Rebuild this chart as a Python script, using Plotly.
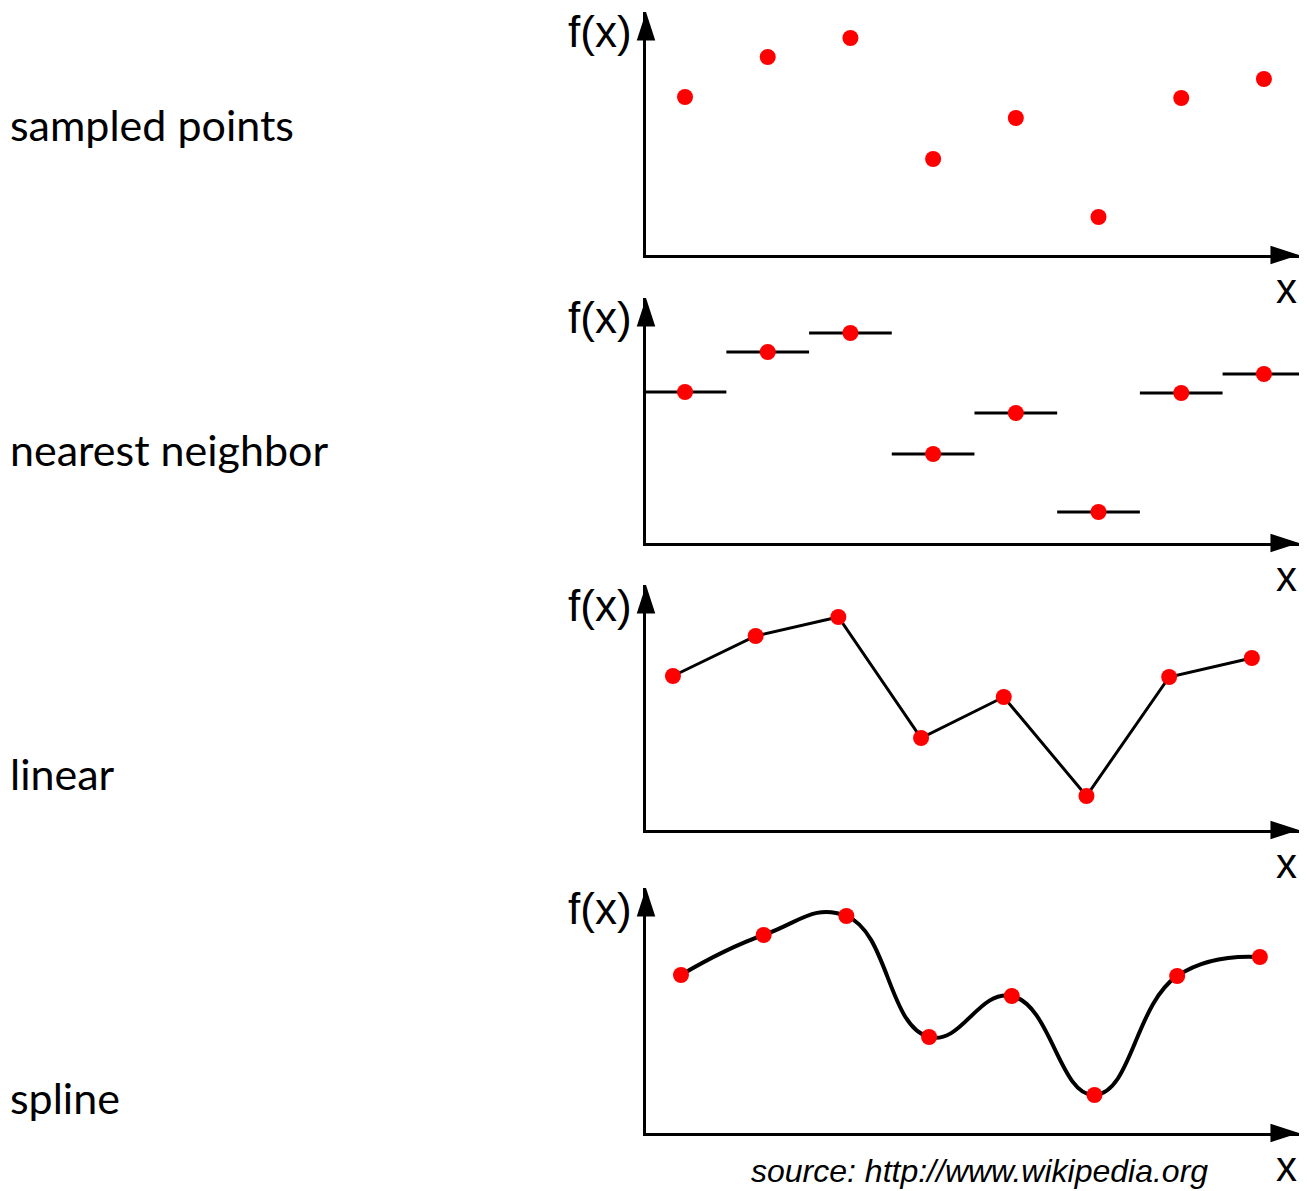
import plotly.graph_objects as go

# sample positions and sampled values (arbitrary units)
x_samples = [1, 2, 3, 4, 5, 6, 7, 8]
f_samples = [7.9, 9.9, 10.85, 4.8, 6.85, 1.9, 7.85, 8.8]

panel_names = ["sampled points", "nearest neighbor", "linear", "spline"]
source_text = "source: http://www.wikipedia.org"

# page has an 8px body margin, keep the figure inside the window width
OFF = 8
W, H = 1307 - 2 * OFF, 1191 - OFF
RIGHT = 1307 - OFF
PX_PER_X = 82.7
PX_PER_Y = 20.0


def px(v):
    return (v - OFF) / W


def py(v):
    return 1 - (v - OFF) / H


# per panel: (bottom px, top px, x start, y start, label y px)
panels = [
    (255, 12, 0.528, 0.0, 125),
    (543, 298, 0.528, 0.35, 449),
    (830, 585, 0.674, 0.2, 773),
    (1133, 888, 0.577, 0.0, 1097),
]

fig = go.Figure()
annotations = []
x_left = 646
axis_style = dict(showline=True, linewidth=3, linecolor="black", showgrid=False,
                  zeroline=False, showticklabels=False, ticks="", fixedrange=True)

for i, (bot, top, x0, y0, label_y) in enumerate(panels):
    n = "" if i == 0 else str(i + 1)
    xa, ya = "x" + n, "y" + n
    x1 = x0 + (RIGHT - x_left) / PX_PER_X
    y1 = y0 + (bot - top) / PX_PER_Y
    fig.update_layout({
        "xaxis" + n: dict(domain=[px(x_left), 1], range=[x0, x1], anchor=ya, **axis_style),
        "yaxis" + n: dict(domain=[py(bot), py(top)], range=[y0, y1], anchor=xa, **axis_style),
    })

    kind = panel_names[i]
    if kind == "nearest neighbor":
        seg_x, seg_y = [], []
        for xv, fv in zip(x_samples, f_samples):
            seg_x += [max(xv - 0.5, x0), xv + 0.5, None]
            seg_y += [fv, fv, None]
        fig.add_trace(go.Scatter(x=seg_x, y=seg_y, mode="lines", xaxis=xa, yaxis=ya,
                                 line=dict(color="black", width=3), showlegend=False))
    elif kind == "linear":
        fig.add_trace(go.Scatter(x=x_samples, y=f_samples, mode="lines", xaxis=xa, yaxis=ya,
                                 line=dict(color="black", width=3), showlegend=False))
    elif kind == "spline":
        fig.add_trace(go.Scatter(x=x_samples, y=f_samples, mode="lines", xaxis=xa, yaxis=ya,
                                 line=dict(color="black", width=4, shape="spline", smoothing=1.3),
                                 showlegend=False))

    fig.add_trace(go.Scatter(x=x_samples, y=f_samples, mode="markers", xaxis=xa, yaxis=ya,
                             marker=dict(color="#ff0000", size=16), showlegend=False))

    # arrowheads at the ends of both axes
    fig.add_trace(go.Scatter(x=[x0, x1], y=[y1, y0], mode="markers",
                             xaxis=xa, yaxis=ya, cliponaxis=False, hoverinfo="skip",
                             marker=dict(symbol="arrow", size=30, color="black",
                                         angle=[0, 90], line=dict(width=0)),
                             showlegend=False))

    annotations.append(dict(x=px(634), y=py(top + 20), xref="paper", yref="paper",
                            text="f(x)", showarrow=False, xanchor="right", yanchor="middle",
                            font=dict(family="Liberation Sans", size=44, color="black")))
    annotations.append(dict(x=1.0, y=py(bot + 33), xref="paper", yref="paper",
                            text="x", showarrow=False, xanchor="right", yanchor="middle",
                            font=dict(family="Liberation Sans", size=42, color="black")))
    annotations.append(dict(x=px(8), y=py(label_y), xref="paper", yref="paper",
                            text=kind, showarrow=False, xanchor="left", yanchor="middle",
                            font=dict(family="Lato", size=43, color="black")))

annotations.append(dict(x=px(980), y=py(1171), xref="paper", yref="paper",
                        text="<i>" + source_text + "</i>", showarrow=False,
                        xanchor="center", yanchor="middle",
                        font=dict(family="Liberation Sans", size=32, color="black")))

fig.update_layout(
    width=W, height=H,
    margin=dict(l=0, r=0, t=0, b=0),
    paper_bgcolor="white", plot_bgcolor="white",
    annotations=annotations,
    showlegend=False,
)

fig.write_html("out.html", config={"displayModeBar": False})
